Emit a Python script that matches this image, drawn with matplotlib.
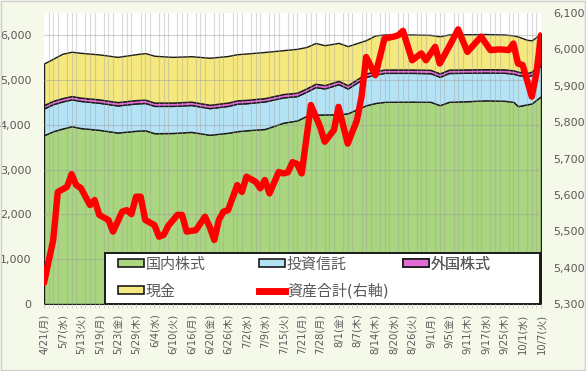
import matplotlib
matplotlib.use("Agg")
import matplotlib.pyplot as plt
import numpy as np
from matplotlib.patches import Patch, Rectangle
from matplotlib.lines import Line2D
from matplotlib.ticker import FuncFormatter, MultipleLocator

plt.rcParams['font.family'] = ['DejaVu Sans', 'Noto Sans CJK JP']

# category axis: trading days, a label every 4th day
n_days = 109
date_labels = ['4/21(月)', '5/7(水)', '5/13(火)', '5/19(月)', '5/23(金)', '5/29(木)',
               '6/4(水)', '6/10(火)', '6/16(月)', '6/20(金)', '6/26(木)', '7/2(水)',
               '7/9(水)', '7/15(火)', '7/21(月)', '7/28(月)', '8/1(金)', '8/7(木)',
               '8/14(木)', '8/20(水)', '8/26(火)', '9/1(月)', '9/5(金)', '9/11(木)',
               '9/17(水)', '9/25(木)', '10/1(水)', '10/7(火)']

# stacked components (left axis), read at these day indices
stack_idx = [0, 2, 4, 6, 8, 12, 16, 20, 22, 24, 28, 32, 36, 40, 42, 44, 48, 52, 55, 57,
             59, 61, 64, 66, 70, 72, 74, 80, 84, 86, 88, 92, 96, 100, 102, 103, 105, 106, 108]
kokunai = [3772, 3860, 3920, 3970, 3930, 3890, 3830, 3870, 3880, 3815, 3820, 3845, 3780,
           3825, 3860, 3880, 3910, 4050, 4100, 4200, 4230, 4235, 4235, 4260, 4440, 4490,
           4516, 4520, 4516, 4442, 4516, 4530, 4550, 4540, 4516, 4420, 4460, 4480, 4643]
toushin = [598, 605, 605, 600, 605, 605, 605, 610, 610, 610, 605, 600, 595, 600, 615, 605,
           615, 565, 545, 540, 615, 580, 675, 553, 635, 635, 647, 643, 639, 633, 644, 635,
           620, 625, 629, 695, 625, 635, 690]
gaikoku = [75] * len(stack_idx)
genkin = [928, 940, 990, 990, 1000, 1005, 1010, 1025, 1040, 1045, 1020, 1015, 1050, 1040,
          1030, 1035, 1030, 980, 980, 925, 910, 890, 848, 872, 745, 800, 782, 782, 780,
          830, 785, 785, 785, 780, 780, 785, 740, 700, 634]

# total assets (right axis)
total_idx = [0, 2, 3, 5, 6, 7, 8, 10, 11, 12, 14, 15, 17, 18, 19, 20, 21, 22, 24, 25, 26,
             27, 29, 30, 31, 33, 35, 36, 37, 38, 39, 40, 42, 43, 44, 46, 47, 48, 49, 51,
             52, 53, 54, 55, 56, 58, 60, 61, 63, 64, 66, 68, 69, 70, 72, 74, 76, 77, 78,
             80, 82, 83, 85, 86, 88, 90, 92, 93, 95, 97, 99, 101, 102, 103, 104, 106, 107, 108]
total = [5358, 5476, 5608, 5622, 5657, 5627, 5619, 5572, 5586, 5545, 5531, 5499, 5554, 5558,
         5547, 5595, 5595, 5531, 5517, 5485, 5490, 5515, 5545, 5545, 5499, 5503, 5540, 5512,
         5476, 5531, 5554, 5558, 5627, 5608, 5650, 5636, 5618, 5641, 5604, 5663, 5659, 5662,
         5690, 5685, 5659, 5847, 5787, 5746, 5778, 5842, 5741, 5805, 5870, 5979, 5929, 6030,
         6035, 6039, 6051, 5970, 5989, 5970, 6007, 5961, 6007, 6055, 5993, 6007, 6035, 5998,
         6000, 5998, 6016, 5961, 5957, 5870, 5934, 6039]

names = ['国内株式', '投資信託', '外国株式', '現金', '資産合計(右軸)']
colors = ['#A9D67F', '#B5E3F6', '#E36BD6', '#F5E87F']
gray = '#595959'

fig = plt.figure(figsize=(5.86, 3.71), dpi=100, facecolor='#F4F9E9')
fig.add_artist(Rectangle((0.002, 0.003), 0.996, 0.994, transform=fig.transFigure,
                         fill=False, edgecolor='#D0D0D0', lw=1))
ax = fig.add_axes([44 / 586, 1 - 304 / 371, 497 / 586, 291 / 371])
ax.set_facecolor('white')

ax.stackplot(stack_idx, kokunai, toushin, gaikoku, genkin, colors=colors,
             edgecolor='#1A1A1A', linewidth=1.0)

ax.set_xlim(0, n_days - 1)
ax.set_ylim(0, 6500)
ax.set_yticks(np.arange(0, 6001, 1000))
ax.yaxis.set_major_formatter(FuncFormatter(lambda v, p: f'{int(v):,}'))
ax.set_xticks(np.arange(0, n_days, 4))
ax.set_xticklabels(date_labels, rotation=90, fontsize=7.2, color=gray)
ax.xaxis.set_minor_locator(MultipleLocator(1))
ax.tick_params(axis='x', which='both', length=3, color='#D0D0D0', pad=4)
ax.tick_params(axis='y', length=0, pad=9, labelsize=8, labelcolor=gray)
for s in ax.spines.values():
    s.set_visible(False)

ax.set_axisbelow(False)
ax.grid(axis='y', which='major', color='#9A9A9A', alpha=0.45, lw=0.8)
ax.grid(axis='x', which='minor', color='#A0A0A0', alpha=0.4, lw=0.8)

ax2 = ax.twinx()
ax2.plot(total_idx, total, color='#FF0000', lw=4.6, solid_joinstyle='round',
         solid_capstyle='round', zorder=3)
ax2.set_ylim(5300, 6100)
ax2.set_yticks(np.arange(5300, 6101, 100))
ax2.yaxis.set_major_formatter(FuncFormatter(lambda v, p: f'{int(v):,}'))
ax2.tick_params(axis='y', length=0, pad=9, labelsize=8, labelcolor=gray)
for s in ax2.spines.values():
    s.set_visible(False)

# legend: white box with three fixed-width columns
frame = Rectangle(((105 - 44) / 497, 0.0), (540 - 105) / 497, (304 - 253) / 291,
                  transform=ax2.transAxes, facecolor='white', edgecolor='#1A1A1A',
                  lw=1.4, zorder=8)
ax2.add_patch(frame)

h = [Patch(facecolor=c, edgecolor='#1A1A1A', lw=1.2) for c in colors]
red = Line2D([], [], color='#FF0000', lw=5)
columns = [([h[0], h[3]], [names[0], names[3]], 116),
           ([h[1], red], [names[1], names[4]], 257),
           ([h[2]], [names[2]], 401)]
for hs, ls, px in columns:
    leg = ax2.legend(hs, ls, loc='upper left',
                     bbox_to_anchor=((px - 44) / 497, (304 - 255) / 291),
                     fontsize=10.8, frameon=False, handlelength=1.75, handleheight=0.5,
                     handletextpad=0.15, borderaxespad=0, borderpad=0.1,
                     labelspacing=0.8)
    for t in leg.get_texts():
        t.set_color(gray)
    leg.set_zorder(10)
    ax2.add_artist(leg)

fig.savefig('out.png', dpi=100, facecolor=fig.get_facecolor())
